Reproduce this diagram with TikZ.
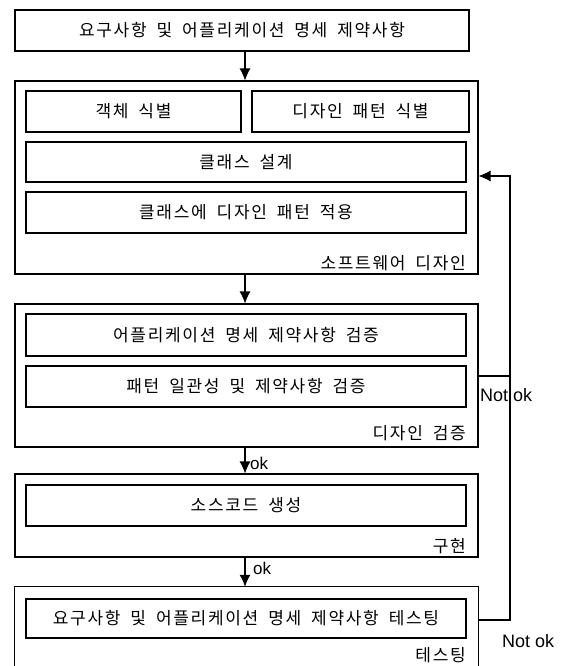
\documentclass[tikz,border=0pt]{standalone}
\usepackage{fontspec}
\setmainfont{Liberation Sans}
\newfontfamily\kr[LetterSpace=10,WordSpace=1.8]{Noto Sans CJK KR}
\usetikzlibrary{arrows.meta}
\begin{document}
\begin{tikzpicture}[x=1pt,y=-1pt,
  line/.style={line width=1.1pt},
  arr/.style={line width=1.1pt,-{Latex[length=12pt,width=11pt]}},
  box/.style={draw,line width=1.1pt,inner sep=0pt,font=\kr\fontsize{17}{20}\selectfont},
  frame/.style={draw,line width=1.1pt,inner sep=0pt},
  tag/.style={inner sep=0pt,anchor=east,font=\kr\fontsize{17}{20}\selectfont},
  oklab/.style={inner sep=0pt,anchor=west,font=\fontsize{17}{20}\selectfont},
  notok/.style={inner sep=0pt,anchor=west,font=\fontsize{18}{21}\selectfont}]
\useasboundingbox (0,0) rectangle (566,666);
% top
\node[box,minimum width=454pt,minimum height=41pt] (req) at (242,30.5) {요구사항 및 어플리케이션 명세 제약사항};
% software design
\node[frame,minimum width=463pt,minimum height=193pt] (sw) at (246.5,177.5) {};
\node[box,minimum width=215pt,minimum height=41pt] (obj) at (133.5,111.5) {객체 식별};
\node[box,minimum width=217pt,minimum height=41pt] (pat) at (360.5,111.5) {디자인 패턴 식별};
\node[box,minimum width=440pt,minimum height=40pt] (cls) at (246,162) {클래스 설계};
\node[box,minimum width=440pt,minimum height=41pt] (apply) at (246,212.5) {클래스에 디자인 패턴 적용};
\node[tag] (swl) at (466,263) {소프트웨어 디자인};
% design verification
\node[frame,minimum width=463pt,minimum height=143pt] (dv) at (246.5,375.5) {};
\node[box,minimum width=440pt,minimum height=42pt] (v1) at (246,335) {어플리케이션 명세 제약사항 검증};
\node[box,minimum width=440pt,minimum height=41pt] (v2) at (246,386.5) {패턴 일관성 및 제약사항 검증};
\node[tag] (dvl) at (466,433) {디자인 검증};
% implementation
\node[frame,minimum width=463pt,minimum height=83pt] (impl) at (246.5,515.5) {};
\node[box,minimum width=440pt,minimum height=41pt] (src) at (246,505.5) {소스코드 생성};
\node[tag] (impll) at (466,546) {구현};
% testing (open at bottom)
\node[minimum width=463pt,minimum height=79pt,inner sep=0pt] (test) at (246.5,626.5) {};
\draw[line] (test.south west) -- (test.north west) -- (test.north east) -- (test.south east);
\node[box,minimum width=440pt,minimum height=39pt] (t1) at (246,618.5) {요구사항 및 어플리케이션 명세 제약사항 테스팅};
\node[tag] (testl) at (466,655) {테스팅};
% main arrows
\coordinate (ax) at (245,0);
\draw[arr] (req.south -| ax) -- (sw.north -| ax);
\draw[arr] (sw.south -| ax) -- (dv.north -| ax);
\draw[arr] (dv.south -| ax) -- (impl.north -| ax);
\draw[arr] (impl.south -| ax) -- (test.north -| ax);
\node[oklab] (ok1) at (250,463) {ok};
\node[oklab] (ok2) at (253,568) {ok};
% feedback
\coordinate (fbTop) at (510,176);
\coordinate (fbMid) at (510,376);
\coordinate (fbBot) at (510,620);
\draw[arr] (fbBot -| test.east) -- (fbBot) -- (fbTop) -- (fbTop -| sw.east);
\draw[line] (fbMid -| dv.east) -- (fbMid);
\node[notok] (no1) at (480,395) {Not ok};
\node[notok] (no2) at (502,641) {Not ok};
\end{tikzpicture}
\end{document}
